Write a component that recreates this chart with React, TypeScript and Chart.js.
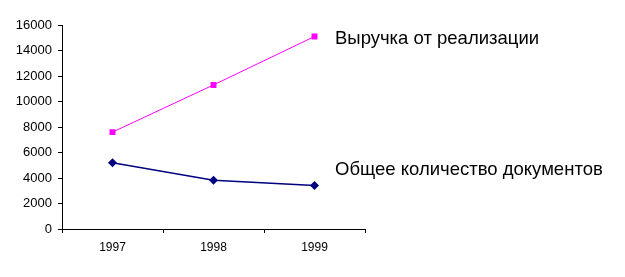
import React, { useEffect, useRef } from "react";
import { Chart, registerables } from "chart.js";

Chart.register(...registerables);

const categories = ["1997", "1998", "1999"];
const seriesNames = ["Выручка от реализации", "Общее количество документов"];
const revenue = [7600, 11300, 15100];
const documents = [5200, 3830, 3420];
const yTicks = [0, 2000, 4000, 6000, 8000, 10000, 12000, 14000, 16000];

const FONT = "'Liberation Sans', Arial, sans-serif";

const seriesLabelPlugin = {
  id: "seriesLabels",
  afterDraw(chart: any) {
    const ctx = chart.ctx;
    const area = chart.chartArea;
    const yScale = chart.scales.y;
    ctx.save();
    ctx.font = `18.5px ${FONT}`;
    ctx.fillStyle = "#000";
    ctx.textBaseline = "middle";
    ctx.textAlign = "left";
    const x = area.right - 30;
    ctx.fillText(seriesNames[0], x, yScale.getPixelForValue(14900));
    ctx.fillText(seriesNames[1], x, yScale.getPixelForValue(4600));
    ctx.restore();
  },
};

export default function App() {
  const ref = useRef<HTMLCanvasElement>(null);
  useEffect(() => {
    document.body.style.margin = "0";
    const chart = new Chart(ref.current!, {
      type: "line",
      data: {
        labels: categories,
        datasets: [
          {
            label: seriesNames[0],
            data: revenue,
            borderColor: "#FF00FF",
            backgroundColor: "#FF00FF",
            borderWidth: 1,
            pointStyle: "rect",
            pointRadius: 4.2,
            pointBorderWidth: 0,
            tension: 0,
          },
          {
            label: seriesNames[1],
            data: documents,
            borderColor: "#000080",
            backgroundColor: "#000080",
            borderWidth: 1.5,
            pointStyle: "rectRot",
            pointRadius: 4.5,
            pointBorderWidth: 0,
            tension: 0,
          },
        ],
      },
      options: {
        animation: false,
        responsive: false,
        layout: { padding: { left: 0, right: 260, top: 25, bottom: 0 } },
        plugins: { legend: { display: false }, tooltip: { enabled: false } },
        scales: {
          x: {
            offset: true,
            grid: {
              offset: true,
              drawOnChartArea: false,
              tickLength: 4,
              color: "#000",
            },
            border: { display: true, color: "#000", width: 1 },
            ticks: { color: "#000", font: { family: FONT, size: 12 }, padding: 7, maxRotation: 0 },
            afterFit(scale: any) {
              scale.height = 48;
            },
          },
          y: {
            min: 0,
            max: 16000,
            afterBuildTicks(scale: any) {
              scale.ticks = yTicks.map((v) => ({ value: v }));
            },
            grid: { drawOnChartArea: false, tickLength: 4, color: "#000" },
            border: { display: true, color: "#000", width: 1 },
            ticks: {
              color: "#000",
              font: { family: FONT, size: 13 },
              padding: 6,
              callback: (v: any) => String(v),
            },
            afterFit(scale: any) {
              scale.width = 62;
            },
          },
        },
      },
      plugins: [seriesLabelPlugin],
    });
    return () => chart.destroy();
  }, []);
  return <canvas ref={ref} width={625} height={277} style={{ display: "block" }} />;
}
